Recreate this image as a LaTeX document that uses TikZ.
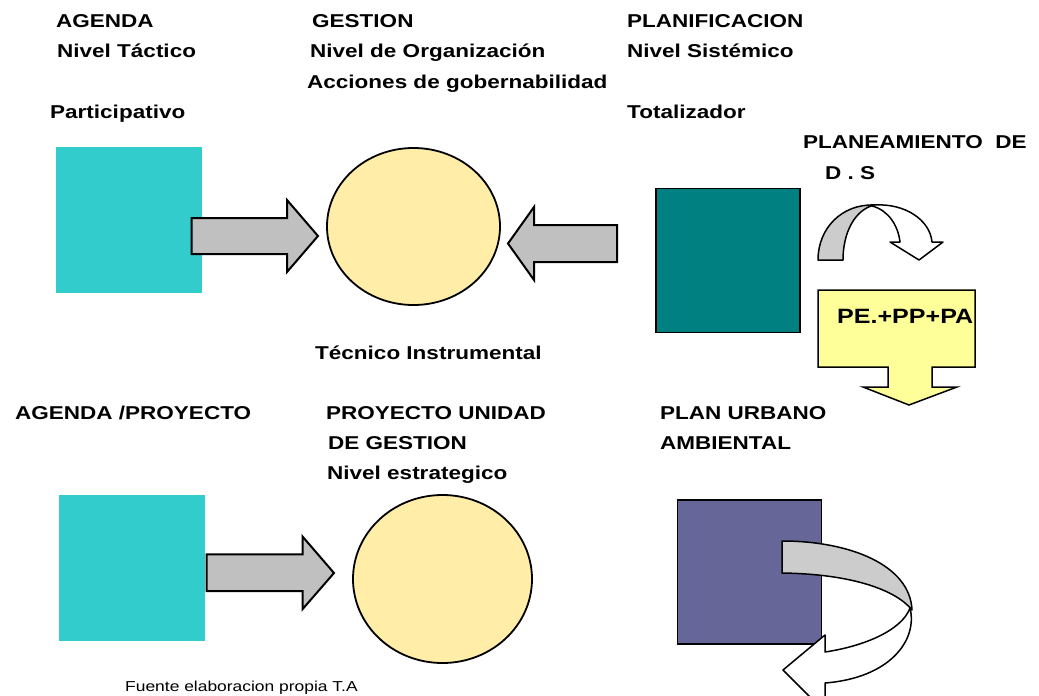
\documentclass[tikz,border=0pt]{standalone}
\usepackage{fontspec}
\setmainfont{Liberation Sans}[FakeStretch=1.21]
\usetikzlibrary{shapes.geometric}
\definecolor{cyanbox}{HTML}{33CCCC}
\definecolor{tealbox}{HTML}{008080}
\definecolor{purplebox}{HTML}{666699}
\definecolor{bubblefill}{RGB}{255,237,168}
\definecolor{arrowgray}{HTML}{C0C0C0}
\definecolor{curlgray}{HTML}{CCCCCC}
\definecolor{calloutyellow}{HTML}{FFFF99}
\newcommand\lblfont{\bfseries\fontsize{18.6}{20}\selectfont}
\tikzset{
  lbl/.style={anchor=base west, inner sep=0pt, font=\lblfont},
  note/.style={anchor=base west, inner sep=0pt, font=\fontsize{14.4}{16}\selectfont},
  sqbox/.style={rectangle, inner sep=0pt, minimum width=#1, minimum height=#1},
  bubble/.style={ellipse, draw=black, line width=1.8pt, fill=bubblefill, inner sep=0pt},
  blockarrow/.style={fill=arrowgray, draw=black, line width=2pt, line join=miter},
  curl/.style={draw=black, line width=1.5pt, line join=round},
}
\begin{document}
\begin{tikzpicture}[x=1pt, y=-1pt]
\clip (0,0) rectangle (1039,696);
\fill[white] (0,0) rectangle (1039,696);

% ---- top row shapes
\node[sqbox=146pt, fill=cyanbox] (agsq) at (128.5,219.5) {};
\node[bubble, minimum width=173pt, minimum height=157pt] (gestc) at (413.5,226.5) {};
\node[sqbox=144pt, fill=tealbox, draw=black, line width=1.4pt] (plsq) at (728,260.5) {};

% arrow agenda -> gestion
\path[blockarrow] (191.7,218) -- (287,218) -- (287,200) -- (318,236) -- (287,272) -- (287,254) -- (191.7,254) -- cycle;
% arrow planificacion -> gestion
\path[blockarrow] (617,225) -- (534,225) -- (534,207) -- (508,243.5) -- (534,280) -- (534,262) -- (617,262) -- cycle;

% curved arrow top right
\path[curl, fill=white] (872,206) .. controls (888,210) and (898,225) .. (900,242) -- (890,242) -- (919,260) -- (943,242) -- (932,242) .. controls (930,220) and (905,203) .. (874,205) -- cycle;
\path[curl, fill=curlgray] (818,260) .. controls (818,228) and (842,204) .. (874,205) .. controls (855,210) and (843,232) .. (843,260) -- cycle;

% callout PE+PP+PA
\path[draw=black, line width=1.5pt, fill=calloutyellow, line join=miter]
  (818,290) -- (975,290) -- (975,367) -- (932,367) -- (932,387) -- (957,387) -- (909,405) -- (863,387) -- (888,387) -- (888,367) -- (818,367) -- cycle;
\node[anchor=base west, inner sep=0pt, font=\bfseries\fontsize{20.7}{22}\selectfont] (pe) at (837,323.5) {PE.+PP+PA};

% ---- bottom row shapes
\node[sqbox=146pt, fill=cyanbox] (apsq) at (131.5,568) {};
\node[bubble, minimum width=179pt, minimum height=168pt] (projc) at (442.5,579) {};
\path[blockarrow] (206.7,554.3) -- (302.7,554.3) -- (302.7,536.7) -- (334,573) -- (302.7,609) -- (302.7,591) -- (206.7,591) -- cycle;

\node[sqbox=144pt, fill=purplebox, draw=black, line width=1.4pt] (pusq) at (749.5,572) {};
% curved arrow bottom right
\path[curl, fill=white] (910,608) .. controls (918,640) and (890,678) .. (825,683) -- (825,712) -- (783,670) -- (825,635) -- (825,652) .. controls (865,646) and (902,630) .. (910,608) -- cycle;
\path[curl, fill=curlgray] (782,541) .. controls (850,541) and (910,565) .. (912,610) .. controls (896,590) and (852,574) .. (782,573) -- cycle;

% ---- labels
\node[lbl] (t1) at (56,27.5) {AGENDA};
\node[lbl] (t2) at (57,57.5) {Nivel Táctico};
\node[lbl] (t3) at (50,118) {Participativo};
\node[lbl] (t4) at (312,27.5) {GESTION};
\node[lbl] (t5) at (310,57.5) {Nivel de Organización};
\node[lbl] (t6) at (307,88) {Acciones de gobernabilidad};
\node[lbl] (t7) at (627,27.5) {PLANIFICACION};
\node[lbl] (t8) at (627,57.5) {Nivel Sistémico};
\node[lbl] (t9) at (627,118) {Totalizador};
\node[lbl] (t10) at (803,148) {PLANEAMIENTO\ \ DE};
\node[lbl] (t11) at (825,179) {D . S};
\node[lbl] (t12) at (315,359) {Técnico Instrumental};
\node[lbl] (t13) at (15,419) {AGENDA /PROYECTO};
\node[lbl] (t14) at (326,419) {PROYECTO UNIDAD};
\node[lbl] (t15) at (328,449) {DE GESTION};
\node[lbl] (t16) at (327,479) {Nivel estrategico};
\node[lbl] (t17) at (660,419) {PLAN URBANO};
\node[lbl] (t18) at (660,449) {AMBIENTAL};
\node[note] (t19) at (125,691) {Fuente elaboracion propia T.A};
\end{tikzpicture}
\end{document}
